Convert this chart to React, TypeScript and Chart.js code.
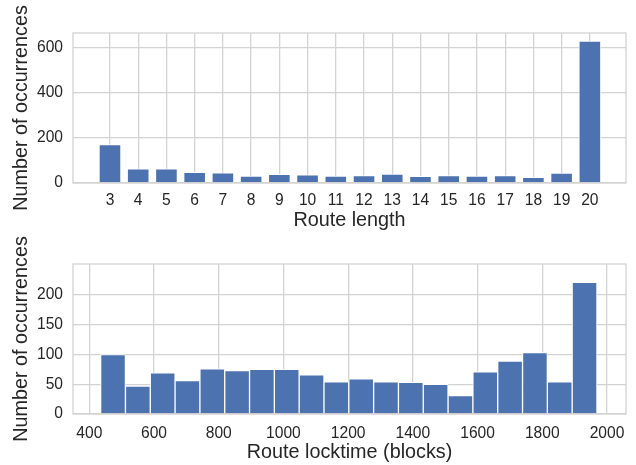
import React, { useEffect, useRef } from "react";
import { Chart, registerables } from "chart.js";
Chart.register(...registerables);

// ---- Top chart data ----
const routeLengths = [3, 4, 5, 6, 7, 8, 9, 10, 11, 12, 13, 14, 15, 16, 17, 18, 19, 20];
const routeLengthCounts = [172, 65, 64, 49, 47, 32, 40, 38, 32, 35, 41, 31, 35, 32, 35, 27, 46, 632];
const topYTicks = [0, 200, 400, 600];

// ---- Bottom chart data ----
const locktimeBinEdges = [
  435.0, 511.7, 588.4, 665.1, 741.8, 818.5, 895.2, 971.9, 1048.6, 1125.3, 1202.0,
  1278.7, 1355.4, 1432.1, 1508.8, 1585.5, 1662.2, 1738.9, 1815.6, 1892.3, 1969.0,
];
const locktimeCounts = [100, 47, 69, 56, 76, 73, 75, 75, 66, 54, 59, 54, 53, 50, 31, 71, 89, 103, 54, 221];
const locktimeTicks = [400, 600, 800, 1000, 1200, 1400, 1600, 1800, 2000];
const bottomYTicks = [0, 50, 100, 150, 200];

const FONT = "'Liberation Sans', Arial, Helvetica, sans-serif";
const TEXT = "#262626";
const GRID = "#d3d3d3";
const BLUE = "#4c72b0";

const spinePlugin = {
  id: "spines",
  afterDatasetsDraw(chart: any) {
    const { ctx, chartArea } = chart;
    ctx.save();
    ctx.strokeStyle = GRID;
    ctx.lineWidth = 1.3;
    ctx.strokeRect(chartArea.left, chartArea.top, chartArea.right - chartArea.left, chartArea.bottom - chartArea.top);
    ctx.restore();
  },
};

function makeConfig(opts: {
  points: { x: number; y: number }[];
  barPct: number;
  xMin: number;
  xMax: number;
  xTicks: number[];
  yMax: number;
  yTicks: number[];
  xTitle: string;
  padTop: number;
  xHeight: number;
  xTitlePad: number;
  xTickPad: number;
}): any {
  return {
    type: "bar",
    data: {
      datasets: [
        {
          data: opts.points,
          backgroundColor: BLUE,
          borderColor: "#ffffff",
          borderWidth: 1,
          borderSkipped: "start",
          barPercentage: opts.barPct,
          categoryPercentage: 1,
        },
      ],
    },
    options: {
      responsive: false,
      animation: false,
      events: [],
      layout: { padding: { top: opts.padTop, right: 10, left: 0, bottom: 0 } },
      plugins: { legend: { display: false }, tooltip: { enabled: false } },
      scales: {
        x: {
          type: "linear",
          offset: false,
          min: opts.xMin,
          max: opts.xMax,
          afterBuildTicks: (s: any) => {
            s.ticks = opts.xTicks.map((v) => ({ value: v }));
          },
          afterFit: (s: any) => {
            s.height = opts.xHeight;
          },
          grid: { color: GRID, lineWidth: 1.3, drawTicks: false, offset: false },
          border: { display: false },
          ticks: {
            color: TEXT,
            font: { family: FONT, size: 15.6 },
            padding: opts.xTickPad,
            maxRotation: 0,
            autoSkip: false,
            callback: (v: any) => String(v),
          },
          title: {
            display: true,
            text: opts.xTitle,
            color: TEXT,
            font: { family: FONT, size: 19.8, lineHeight: 1.2 },
            padding: { top: 0, bottom: opts.xTitlePad },
          },
        },
        y: {
          type: "linear",
          min: 0,
          max: opts.yMax,
          afterBuildTicks: (s: any) => {
            s.ticks = opts.yTicks.map((v) => ({ value: v }));
          },
          afterFit: (s: any) => {
            s.width = 73;
          },
          grid: { color: GRID, lineWidth: 1.3, drawTicks: false },
          border: { display: false },
          ticks: {
            color: TEXT,
            font: { family: FONT, size: 15.6 },
            padding: 10,
            callback: (v: any) => String(v),
          },
          title: {
            display: true,
            text: "Number of occurrences",
            color: TEXT,
            font: { family: FONT, size: 19.8, lineHeight: 1.2 },
            padding: { top: 10, bottom: 0 },
          },
        },
      },
    },
    plugins: [spinePlugin],
  };
}

function ChartCanvas({ config, width, height, top }: { config: any; width: number; height: number; top: number }) {
  const ref = useRef<HTMLCanvasElement | null>(null);
  useEffect(() => {
    if (!ref.current) return;
    const chart = new Chart(ref.current, config);
    return () => chart.destroy();
  }, [config]);
  return (
    <canvas
      ref={ref}
      width={width}
      height={height}
      style={{ position: "absolute", left: 0, top, width, height, display: "block" }}
    />
  );
}

const topConfig = makeConfig({
  points: routeLengths.map((x, i) => ({ x, y: routeLengthCounts[i] })),
  barPct: 0.8,
  xMin: 1.69,
  xMax: 21.28,
  xTicks: routeLengths,
  yMax: 667,
  yTicks: topYTicks,
  xTitle: "Route length",
  padTop: 33,
  xHeight: 49,
  xTitlePad: 0,
  xTickPad: 8,
});

const bottomConfig = makeConfig({
  points: locktimeCounts.map((y, i) => ({ x: (locktimeBinEdges[i] + locktimeBinEdges[i + 1]) / 2, y })),
  barPct: 1,
  xMin: 349.6,
  xMax: 2058.7,
  xTicks: locktimeTicks,
  yMax: 252,
  yTicks: bottomYTicks,
  xTitle: "Route locktime (blocks)",
  padTop: 32,
  xHeight: 51,
  xTitlePad: 1,
  xTickPad: 10,
});

export default function App() {
  return (
    <div style={{ position: "absolute", left: 0, top: 0, width: 636, height: 465, background: "#ffffff" }}>
      <ChartCanvas config={topConfig} width={636} height={232} top={0} />
      <ChartCanvas config={bottomConfig} width={636} height={233} top={232} />
    </div>
  );
}
